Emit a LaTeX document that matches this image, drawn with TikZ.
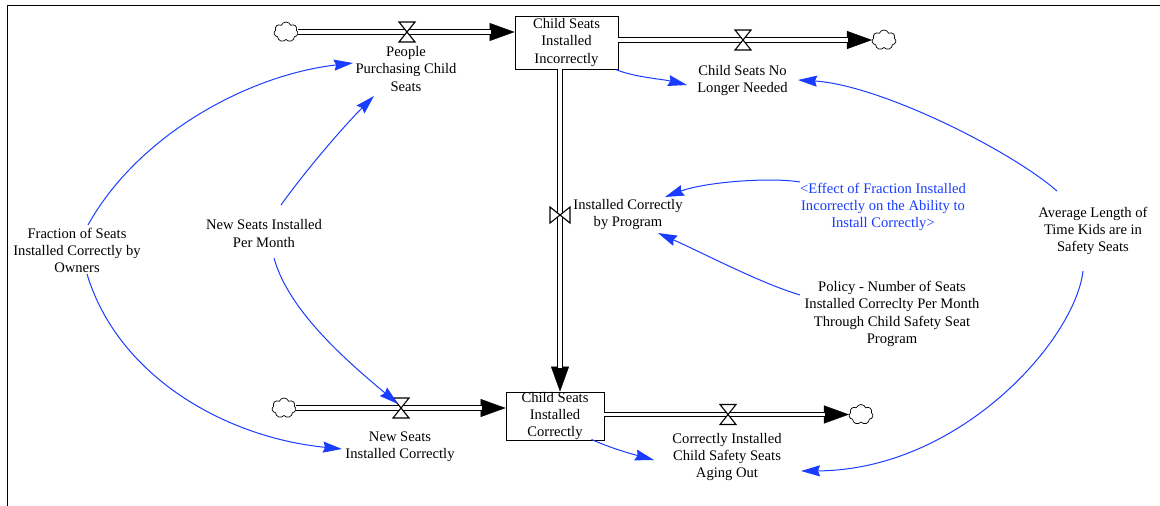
\documentclass[tikz,border=0pt]{standalone}
\usepackage{fontspec}
\setmainfont{Liberation Serif}
\usetikzlibrary{arrows.meta,shapes.symbols,calc}
\definecolor{linkblue}{RGB}{25,60,255}
\newcommand{\flowdraw}[2]{%
  \draw[flowtip] #1 -- #2;
  \draw[pipe] #1 -- #2;}
\begin{document}
\begin{tikzpicture}[x=1pt,y=-1pt,
  every node/.style={font=\fontsize{14.6}{17.3}\selectfont},
  lbl/.style={align=center, inner sep=0pt},
  stock/.style={draw, line width=0.9pt, align=center, minimum width=103pt, minimum height=53pt, inner sep=0pt, fill=white},
  cloudn/.style={cloud, cloud puffs=7, cloud puff arc=140, aspect=1.3, draw, line width=0.7pt, minimum width=24pt, minimum height=20pt, inner sep=0pt, fill=white},
  flowtip/.style={line width=0.4pt, -{Triangle[length=25pt,width=18pt]}},
  pipe/.style={double=white, line width=1.1pt, double distance=3.4pt, shorten >=24pt},
  link/.style={draw=linkblue, line width=1pt, -{Stealth[length=19pt,width=11pt,inset=2pt]}},
  valveh/.pic={\draw[fill=white, line width=1.1pt] (-8,-10) -- (8,-10) -- (-8,10) -- (8,10) -- cycle;},
  valvev/.pic={\draw[fill=white, line width=1.1pt] (-10,-8) -- (-10,8) -- (10,-8) -- (10,8) -- cycle;}
]
\useasboundingbox (0,0) rectangle (1160,506);
\fill[white] (0,0) rectangle (1160,506);
\draw[line width=1.7pt] (7.5,506) -- (7.5,5.5) -- (1160,5.5);

% stocks and clouds
\node[stock] (s1) at (566.5,42.5) {Child Seats\\Installed\\Incorrectly};
\node[stock, minimum width=98pt, minimum height=48pt] (s2) at (555,416) {Child Seats\\Installed\\Correctly};
\node[cloudn] (c1) at (286,32) {};
\node[cloudn] (c2) at (884,40) {};
\node[cloudn] (c4) at (284,408) {};
\node[cloudn] (c5) at (861,414.5) {};

% valves
\coordinate (v1) at (407,32);
\coordinate (v2) at (743,40);
\coordinate (v3) at (560,215);
\coordinate (v4) at (401,408);
\coordinate (v5) at (728,414.5);

% pipes
\flowdraw{(c1.east)}{(c1.east -| s1.west)}
\flowdraw{(s1.east |- c2.west)}{(c2.west)}
\flowdraw{(v3 |- s1.south)}{(v3 |- s2.north)}
\flowdraw{(c4.east)}{(c4.east -| s2.west)}
\flowdraw{(s2.east |- c5.west)}{(c5.west)}

\pic at (v1) {valveh};
\pic at (v2) {valveh};
\pic at (v3) {valvev};
\pic at (v4) {valveh};
\pic at (v5) {valveh};

% labels
\node[lbl] (pp) at (406,69) {People\\Purchasing Child\\Seats};
\node[lbl] (nl) at (742.5,80.5) {Child Seats No\\Longer Needed};
\node[lbl] (icp) at (628,214.5) {Installed Correctly\\by Program};
\node[lbl] (nsc) at (400,447) {New Seats\\Installed Correctly};
\node[lbl] (ao) at (727,457) {Correctly Installed\\Child Safety Seats\\Aging Out};
\node[lbl] (fr) at (77,250.5) {Fraction of Seats\\Installed Correctly by\\Owners};
\node[lbl] (nspm) at (264,233.5) {New Seats Installed\\Per Month};
\node[lbl, text=linkblue] (eff) at (883,207) {<Effect of Fraction Installed\\Incorrectly on the Ability to\\Install Correctly>};
\node[lbl] (pol) at (892,314) {Policy - Number of Seats\\Installed Correclty Per Month\\Through Child Safety Seat\\Program};
\node[lbl] (avg) at (1093,231) {Average Length of\\Time Kids are in\\Safety Seats};

% links
\draw[link] ($(fr)+(11,-25.5)$) .. controls +(50,-90) and +(-105,12) .. ($(pp)+(-53,-6)$);
\draw[link] ($(fr)+(10,23.5)$) .. controls +(30,100) and +(-120,-12) .. ($(nsc)+(-58,2)$);
\draw[link] ($(nspm)+(17,-28.5)$) .. controls +(25,-35) and +(-30,30) .. ($(pp)+(-32,27)$);
\draw[link] ($(nspm)+(10,24.5)$) .. controls +(15,55) and +(-45,-38) .. ($(v4)+(-3,-4)$);
\draw[link] ($(s1.south east)+(-3,0)$) .. controls +(20,8) and +(-25,-6) .. ($(nl)+(-55.5,4.5)$);
\draw[link] ($(avg)+(-36,-40)$) .. controls +(-47,-41) and +(82,5) .. ($(nl)+(55.5,-0.5)$);
\draw[link] ($(avg)+(-10,40)$) .. controls +(-8,69) and +(159,-1) .. ($(ao)+(74,14)$);
\draw[link] ($(eff)+(-83,-25)$) .. controls +(-30,-5) and +(40,-15) .. ($(icp)+(37,-17.5)$);
\draw[link] ($(pol)+(-92,-19)$) .. controls +(-40,-12) and +(45,20) .. ($(icp)+(30,18.5)$);
\draw[link] ($(s2.south east)+(-13,-1)$) .. controls +(20,9) and +(-22,-6) .. ($(ao)+(-73,3)$);
\end{tikzpicture}
\end{document}
